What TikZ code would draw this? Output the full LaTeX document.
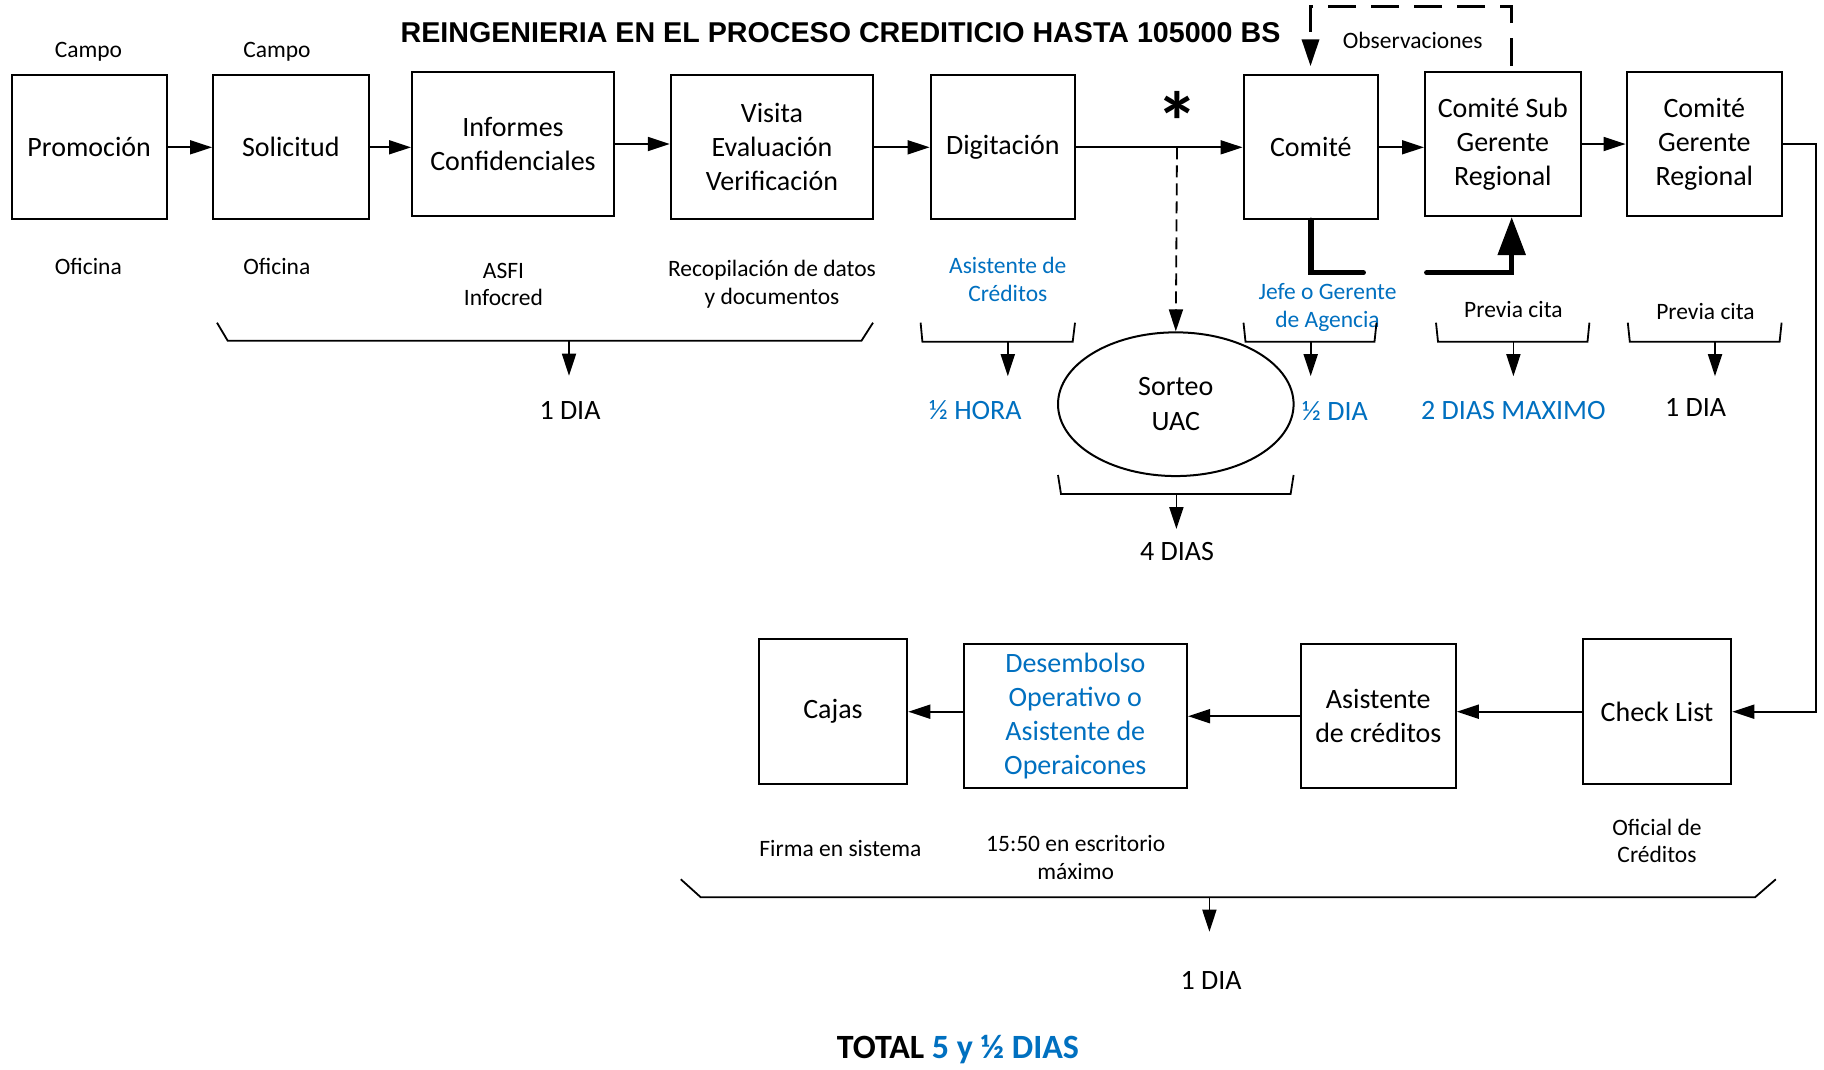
\documentclass[tikz,border=0pt]{standalone}
\usepackage{fontspec}
\setmainfont{Carlito}
\newfontfamily\titlefont{Liberation Sans}
\usetikzlibrary{arrows.meta,shapes.geometric,calc}
\definecolor{ofblue}{HTML}{0070C0}

\begin{document}
\begin{tikzpicture}[x=1pt,y=-1pt,
  box/.style={draw, line width=2pt, inner sep=0pt, align=center,
    font=\fontsize{28}{34}\selectfont},
  lbl/.style={align=center, inner sep=0pt, font=\fontsize{23.5}{27.5}\selectfont},
  dur/.style={inner sep=0pt, font=\fontsize{28}{34}\selectfont},
  conn/.style={line width=1.8pt, -{Triangle[length=22pt,width=14pt]}},
  brace/.style={line width=1.8pt, line join=miter},
  probe/.style={line width=1.8pt, dash pattern=on 12pt off 6pt,
    -{Triangle[length=22pt,width=14pt]}},
  obsline/.style={line width=3.5pt, dash pattern=on 28pt off 15pt,
    -{Triangle[length=27pt,width=17pt]}},
  boldpath/.style={line width=5.3pt, line cap=round, line join=miter},
  boldarrow/.style={boldpath, -{Triangle[length=38pt,width=27pt]}},
]
\fill[white] (0,0) rectangle (1824,1069);
\useasboundingbox (0,0) rectangle (1824,1069);

% title
\node[anchor=base, inner sep=0pt, font={\titlefont\bfseries\fontsize{28.65}{32}\selectfont}]
  (title) at (840.5,42.3) {REINGENIERIA EN EL PROCESO CREDITICIO HASTA 105000 BS};

% upper row of process boxes
\node[box, minimum width=155pt,   minimum height=144pt] (prom) at (89.2,147.3)   {Promoción};
\node[box, minimum width=155.5pt, minimum height=144pt] (sol)  at (290.8,147.3)  {Solicitud};
\node[box, minimum width=202pt,   minimum height=144pt] (inf)  at (513,144)      {Informes\\Confidenciales};
\node[box, minimum width=202.4pt, minimum height=144pt] (vis)  at (772,147.3)    {Visita\\Evaluación\\Verificación};
\node[box, minimum width=144.4pt, minimum height=144pt] (dig)  at (1002.8,147.3) {Digitación};
\node[box, minimum width=134.5pt, minimum height=144pt] (com)  at (1310.8,147.3) {Comité};
\node[box, minimum width=155.6pt, minimum height=144pt] (sub)  at (1502.8,144)   {Comité Sub\\Gerente\\Regional};
\node[box, minimum width=155.4pt, minimum height=144pt] (ger)  at (1704.3,144)   {Comité\\Gerente\\Regional};

% lower row of process boxes
\node[box, minimum width=148.5pt, minimum height=144.7pt] (cajas) at (833,711.7)    {Cajas};
\node[box, minimum width=223.4pt, minimum height=144.3pt, text=ofblue] (des) at (1075.3,716.2)
  {Desembolso\\Operativo o\\Asistente de\\Operaicones};
\node[box, minimum width=155pt,   minimum height=144.3pt] (asi)   at (1378.3,716.2) {Asistente\\de créditos};
\node[box, minimum width=148.5pt, minimum height=144.7pt] (chk)   at (1657,711.7)   {Check List};

% lottery
\node[draw, ellipse, line width=2pt, inner sep=0pt, minimum width=235.6pt, minimum height=143.7pt,
  align=center, font=\fontsize{28}{35}\selectfont] (uac) at (1175.8,404.2) {Sorteo\\UAC};

% flow connectors
\draw[conn] (prom.east) -- (prom.east -| sol.west);
\draw[conn] (sol.east) -- (sol.east -| inf.west);
\draw[conn] (inf.east) -- (inf.east -| vis.west);
\draw[conn] (vis.east) -- (vis.east -| dig.west);
\draw[conn] (dig.east) -- (com.west);
\draw[conn] (com.east) -- (com.east -| sub.west);
\draw[conn] (sub.east) -- (ger.west);
\coordinate (rline) at (1816,144);
\draw[conn] (ger.east) -- (rline) |- (chk.east);
\draw[conn] (chk.west) -- (chk.west -| asi.east);
\draw[conn] (asi.west) -- (asi.west -| des.east);
\draw[conn] (des.west |- cajas.east) -- (cajas.east);

% branch to the lottery
\coordinate (tap) at (1177,147.3);
\node[inner sep=0pt, anchor=base, font=\bfseries\fontsize{84}{84}\selectfont] (star) at (1177,151.7) {*};
\draw[probe] (tap) -- (uac.north);

% observations loop
\coordinate (obsR) at (1511.7,6.7);
\coordinate (obsL) at (1310.5,6.7);
\draw[obsline, shorten <=5pt, shorten >=8pt] (sub.north -| obsR) -- (obsR) -- (obsL) -- (obsL |- com.north);
\node[lbl] (obs) at (1412.7,40) {Observaciones};

% escalation path
\coordinate (lA) at (1311,272.7);
\coordinate (lB) at (1363.3,272.7);
\coordinate (lC) at (1426.7,272.7);
\coordinate (lD) at (1511.7,272.7);
\draw[boldpath] (com.south -| lA) -- (lA) -- (lB);
\draw[boldarrow] (lC) -- (lD) -- (lD |- sub.south);

% labels above and below the boxes
\node[lbl] (c1) at (88.4,51.7) {Campo};
\node[lbl] (c2) at (276.9,51.7) {Campo};
\node[lbl] (o1) at (88.4,266.7) {Oficina};
\node[lbl] (o2) at (276.9,266.7) {Oficina};
\node[lbl] (asfi) at (503.5,284.3) {ASFI\\Infocred};
\node[lbl] (reco) at (772,284) {Recopilación de datos\\y documentos};
\node[lbl, text=ofblue] (asc) at (1007.8,279.5) {Asistente de\\Créditos};
\node[lbl, text=ofblue] (jefe) at (1327.5,307.3) {Jefe o Gerente\\de Agencia};
\node[lbl] (pc1) at (1513.4,309.3) {Previa cita};
\node[lbl] (pc2) at (1705.5,311) {Previa cita};

\node[lbl] (firma) at (840.4,848.3) {Firma en sistema};
\node[lbl, font=\fontsize{23.5}{28.4}\selectfont] (hora) at (1075.7,857.5) {15:50 en escritorio\\máximo};
\node[lbl] (ofi) at (1657,841) {Oficial de\\Créditos};

% time brackets
\draw[brace] (217,322.7) -- (227.7,340.7) -- (861.5,340.7) -- (873,322.7);
\coordinate (b1) at (569,340.7);
\draw[conn] (b1) -- ++(0,35);
\node[dur] (d1) at (570,410.6) {1 DIA};

\draw[brace] (920.6,322.7) -- (922.4,341.7) -- (1072.7,341.7) -- (1075,322.7);
\coordinate (b2) at (1007.8,341.7);
\draw[conn] (b2) -- ++(0,34.5);
\node[dur, text=ofblue] (d2) at (975.4,410) {½ HORA};

\draw[brace] (1243.5,322.7) -- (1245.5,341.7) -- (1374.5,341.7) -- (1376.5,322.7);
\coordinate (b3) at (1310.7,341.7);
\draw[conn] (b3) -- ++(0,34.5);
\node[dur, text=ofblue] (d3) at (1335,410.7) {½ DIA};

\draw[brace] (1436,322.7) -- (1438,341.7) -- (1587.5,341.7) -- (1589.4,322.7);
\coordinate (b4) at (1513.4,341.7);
\draw[conn] (b4) -- ++(0,34.5);
\node[dur, text=ofblue] (d4) at (1513.4,411) {2 DIAS MAXIMO};

\draw[brace] (1627.8,322.7) -- (1629.8,341.7) -- (1779.6,341.7) -- (1781.6,322.7);
\coordinate (b5) at (1715,341.7);
\draw[conn] (b5) -- ++(0,34.5);
\node[dur] (d5) at (1695.5,407.3) {1 DIA};

\draw[brace] (1058,475) -- (1061,494) -- (1290.6,494) -- (1293.6,475);
\coordinate (b6) at (1176.4,494);
\draw[conn] (b6) -- ++(0,35);
\node[dur] (d6) at (1177,551.7) {4 DIAS};

\draw[brace] (680.8,879.3) -- (700.8,897.3) -- (1755,897.3) -- (1775.8,879.3);
\coordinate (b7) at (1209.4,897.3);
\draw[conn] (b7) -- ++(0,34.4);
\node[dur] (d7) at (1211,980) {1 DIA};

% total
\node[inner sep=0pt, font=\bfseries\fontsize{34}{38}\selectfont] (total) at (958,1050)
  {TOTAL \textcolor{ofblue}{5 y ½ DIAS}};
\end{tikzpicture}
\end{document}
